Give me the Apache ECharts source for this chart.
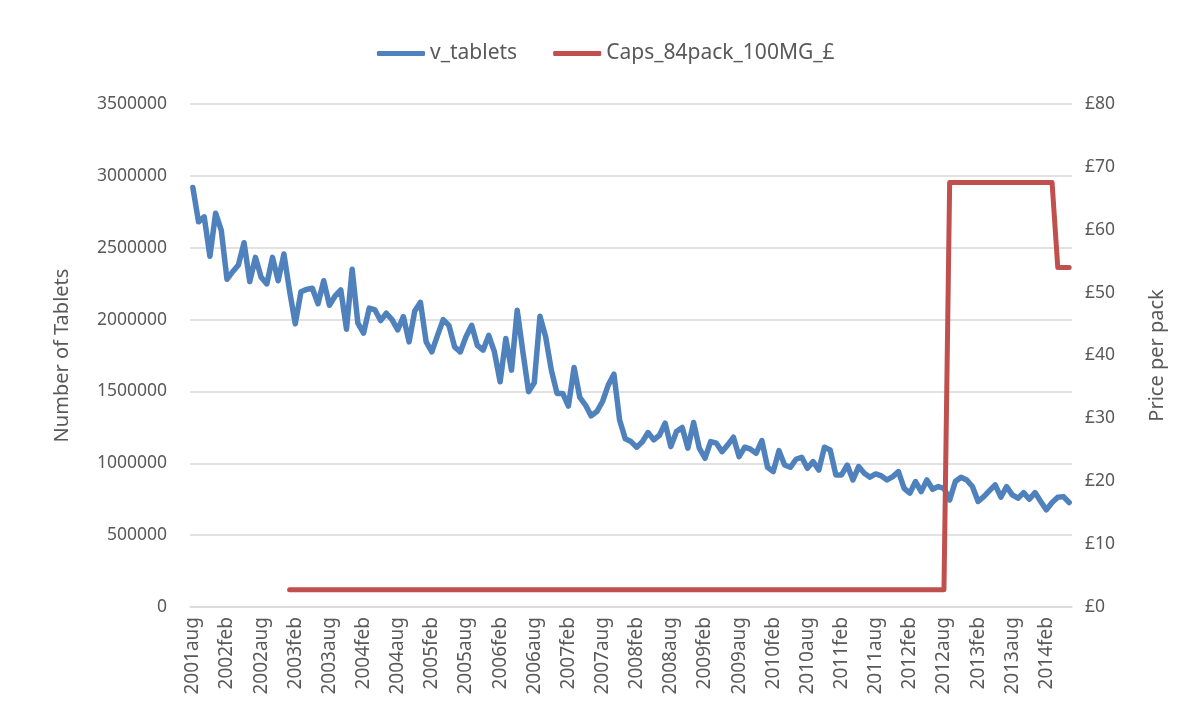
<!DOCTYPE html>
<html>
<head>
<meta charset="utf-8">
<script src="https://cdn.jsdelivr.net/npm/echarts@6/dist/echarts.min.js"></script>
<style>
  html, body { margin: 0; padding: 0; background: #fff; }
  #main { width: 1190px; height: 715px; }
</style>
</head>
<body>
<div id="main"></div>
<script>
// months 2001aug .. 2014jun
var monthNames = ['jan', 'feb', 'mar', 'apr', 'may', 'jun', 'jul', 'aug', 'sep', 'oct', 'nov', 'dec'];
var categories = [];
for (var y = 2001; y <= 2014; y++) {
    for (var m = 0; m < 12; m++) {
        if (y === 2001 && m < 7) continue;
        if (y === 2014 && m > 5) continue;
        categories.push(y + monthNames[m]);
    }
}

var vTablets = [
    2919000, 2680000, 2715000, 2440000, 2740000, 2620000, 2280000, 2333000, 2380000, 2535000,
    2264000, 2433000, 2294000, 2248000, 2433000, 2270000, 2456000, 2200000, 1970000, 2194000,
    2210000, 2218000, 2110000, 2270000, 2100000, 2164000, 2206000, 1933000, 2350000, 1975000,
    1905000, 2080000, 2067000, 1993000, 2044000, 2000000, 1928000, 2020000, 1845000, 2060000,
    2120000, 1845000, 1775000, 1890000, 2000000, 1960000, 1810000, 1775000, 1880000, 1960000,
    1820000, 1787000, 1890000, 1775000, 1567000, 1868000, 1648000, 2065000, 1775000, 1498000,
    1560000, 2023000, 1880000, 1648000, 1486000, 1486000, 1398000, 1667000, 1458000, 1405000,
    1330000, 1360000, 1430000, 1544000, 1620000, 1300000, 1170000, 1151000, 1112000, 1150000,
    1214000, 1163000, 1195000, 1279000, 1116000, 1221000, 1249000, 1105000, 1284000, 1105000,
    1035000, 1151000, 1140000, 1081000, 1128000, 1181000, 1046000, 1112000, 1098000, 1070000,
    1158000, 972000, 942000, 1088000, 988000, 972000, 1028000, 1042000, 965000, 1012000,
    953000, 1112000, 1093000, 919000, 919000, 988000, 884000, 977000, 930000, 903000,
    926000, 912000, 884000, 907000, 942000, 826000, 792000, 873000, 803000, 884000,
    819000, 838000, 826000, 745000, 873000, 903000, 884000, 838000, 734000, 768000,
    810000, 850000, 764000, 838000, 780000, 757000, 796000, 750000, 796000, 734000,
    676000, 727000, 764000, 768000, 727000
];

var capsPrice = [
    null, null, null, null, null, null, null, null, null, null,
    null, null, null, null, null, null, null, 2.73, 2.73, 2.73,
    2.73, 2.73, 2.73, 2.73, 2.73, 2.73, 2.73, 2.73, 2.73, 2.73,
    2.73, 2.73, 2.73, 2.73, 2.73, 2.73, 2.73, 2.73, 2.73, 2.73,
    2.73, 2.73, 2.73, 2.73, 2.73, 2.73, 2.73, 2.73, 2.73, 2.73,
    2.73, 2.73, 2.73, 2.73, 2.73, 2.73, 2.73, 2.73, 2.73, 2.73,
    2.73, 2.73, 2.73, 2.73, 2.73, 2.73, 2.73, 2.73, 2.73, 2.73,
    2.73, 2.73, 2.73, 2.73, 2.73, 2.73, 2.73, 2.73, 2.73, 2.73,
    2.73, 2.73, 2.73, 2.73, 2.73, 2.73, 2.73, 2.73, 2.73, 2.73,
    2.73, 2.73, 2.73, 2.73, 2.73, 2.73, 2.73, 2.73, 2.73, 2.73,
    2.73, 2.73, 2.73, 2.73, 2.73, 2.73, 2.73, 2.73, 2.73, 2.73,
    2.73, 2.73, 2.73, 2.73, 2.73, 2.73, 2.73, 2.73, 2.73, 2.73,
    2.73, 2.73, 2.73, 2.73, 2.73, 2.73, 2.73, 2.73, 2.73, 2.73,
    2.73, 2.73, 2.73, 67.5, 67.5, 67.5, 67.5, 67.5, 67.5, 67.5,
    67.5, 67.5, 67.5, 67.5, 67.5, 67.5, 67.5, 67.5, 67.5, 67.5,
    67.5, 67.5, 54, 54, 54
];

var leftTicks = { min: 0, max: 3500000, interval: 500000 };
var rightTicks = { min: 0, max: 80, interval: 10 };

var textColor = '#595959';
var fontName = '"Noto Sans", sans-serif';

var myChart = echarts.init(document.getElementById('main'));
var option = {
    animation: false,
    textStyle: { fontFamily: fontName },
    legend: {
        top: 38,
        left: 372,
        itemWidth: 48,
        itemHeight: 5,
        itemGap: 36,
        icon: 'roundRect',
        textStyle: { color: textColor, fontSize: 21, fontFamily: fontName },
        data: ['v_tablets', 'Caps_84pack_100MG_£']
    },
    grid: {
        left: 190,
        right: 118,
        top: 104,
        bottom: 108,
        containLabel: false
    },
    xAxis: {
        type: 'category',
        boundaryGap: true,
        data: categories,
        axisLine: { lineStyle: { color: '#D9D9D9', width: 1.5 } },
        axisTick: { show: false },
        axisLabel: {
            interval: 5,
            rotate: 90,
            margin: 10,
            color: textColor,
            fontSize: 19,
            fontFamily: fontName
        }
    },
    yAxis: [
        {
            type: 'value',
            min: leftTicks.min,
            max: leftTicks.max,
            interval: leftTicks.interval,
            name: 'Number of Tablets',
            nameLocation: 'middle',
            nameGap: 118,
            nameTextStyle: { color: textColor, fontSize: 20, fontFamily: fontName },
            axisLine: { show: false },
            axisTick: { show: false },
            axisLabel: {
                color: textColor, fontSize: 17.5, margin: 23, fontFamily: fontName,
                formatter: function (v) { return String(v); }
            },
            splitLine: { lineStyle: { color: '#D9D9D9', width: 1.5 } }
        },
        {
            type: 'value',
            min: rightTicks.min,
            max: rightTicks.max,
            interval: rightTicks.interval,
            name: 'Price per pack',
            nameLocation: 'middle',
            nameGap: 75,
            nameRotate: 90,
            nameTextStyle: { color: textColor, fontSize: 20, fontFamily: fontName },
            axisLine: { show: false },
            axisTick: { show: false },
            axisLabel: {
                color: textColor, fontSize: 17.5, margin: 13, fontFamily: fontName,
                formatter: '£{value}'
            },
            splitLine: { show: false }
        }
    ],
    series: [
        {
            name: 'v_tablets',
            type: 'line',
            yAxisIndex: 0,
            data: vTablets,
            symbol: 'none',
            lineStyle: { color: '#4F81BD', width: 5.5, join: 'round', cap: 'round' },
            itemStyle: { color: '#4F81BD' }
        },
        {
            name: 'Caps_84pack_100MG_£',
            type: 'line',
            yAxisIndex: 1,
            data: capsPrice,
            symbol: 'none',
            connectNulls: false,
            lineStyle: { color: '#C0504D', width: 5, join: 'round', cap: 'round' },
            itemStyle: { color: '#C0504D' }
        }
    ]
};
myChart.setOption(option);
window.addEventListener('resize', function () {
    myChart.resize();
});
</script>
</body>
</html>
